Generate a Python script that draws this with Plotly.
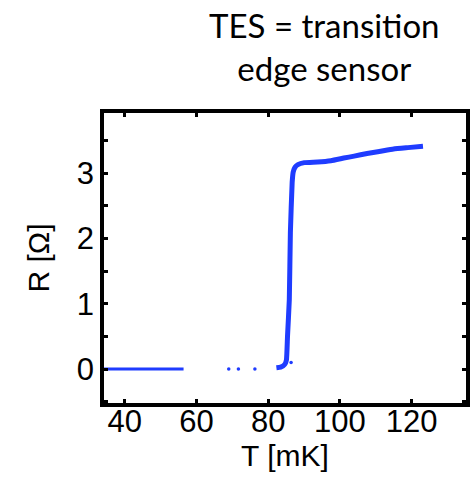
import plotly.graph_objects as go

# Data
flat_T = [33.0, 46.5, 47.0, 47.5, 56.4]
flat_R = [0.0, 0.0, 0.0, 0.0, 0.0]

sparse_T = [69.0, 71.7, 76.3, 86.4]
sparse_R = [0.0, 0.0, 0.0, 0.1]

main_T = [82.3, 83.5, 84.6, 85.1, 85.4, 85.9, 86.2, 86.7, 87.0, 87.5, 88.3, 90.1,
          93.8, 97.5, 101.1, 104.0, 107.6, 111.0, 115.0, 119.0, 123.2]
main_R = [0.02, 0.03, 0.07, 0.14, 0.5, 1.06, 2.09, 2.86, 3.02, 3.09, 3.13, 3.16,
          3.17, 3.19, 3.23, 3.26, 3.30, 3.33, 3.37, 3.39, 3.41]

x_ticks = [40, 60, 80, 100, 120]
y_ticks = [0, 1, 2, 3]

blue = "#1f3cff"

fig = go.Figure()
fig.add_trace(go.Scatter(x=flat_T, y=flat_R, mode="lines",
                         line=dict(color=blue, width=3), showlegend=False))
fig.add_trace(go.Scatter(x=sparse_T, y=sparse_R, mode="markers",
                         marker=dict(color=blue, size=3.5), showlegend=False))
fig.add_trace(go.Scatter(x=main_T, y=main_R, mode="lines",
                         line=dict(color=blue, width=5, shape="spline", smoothing=0.4),
                         showlegend=False))

tick_font = dict(family="Liberation Sans, Arial", size=31, color="black")
title_font = dict(family="Liberation Sans, Arial", size=30, color="black")

fig.update_layout(
    width=476, height=478,
    margin=dict(l=104, r=6, t=113, b=75),
    paper_bgcolor="white", plot_bgcolor="white",
    font=tick_font,
    xaxis=dict(range=[34.2, 135.2], tickvals=x_ticks, ticks="inside", ticklen=4,
               tickwidth=2.5, tickcolor="black", showline=True, linewidth=3.5,
               linecolor="black", mirror="ticks", showgrid=False, zeroline=False,
               tickfont=tick_font, ticklabelstandoff=-12,
               title=dict(text="T [mK]", font=title_font, standoff=0)),
    yaxis=dict(range=[-0.52, 3.92], tickvals=y_ticks, ticks="inside", ticklen=4,
               tickwidth=2.5, tickcolor="black", showline=True, linewidth=3.5,
               linecolor="black", mirror="ticks", showgrid=False, zeroline=False,
               tickfont=tick_font,
               minor=dict(dtick=0.5, tick0=0, ticks="inside", ticklen=4, tickwidth=2.5,
                          tickcolor="black", showgrid=False),
               title=dict(text="R [Ω]", font=title_font, standoff=19)),
)

fig.add_annotation(
    xref="paper", yref="paper", x=0.609, y=1.38, xanchor="center", yanchor="top",
    text="TES = transition<br>edge sensor", showarrow=False, align="center",
    font=dict(family="Lato", size=33, color="black"),
)

fig.write_html("out.html")
